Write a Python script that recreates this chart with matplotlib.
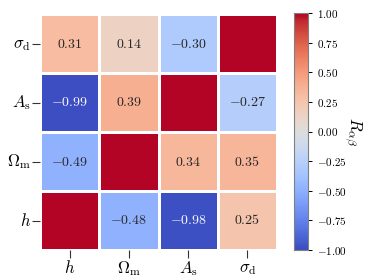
import numpy as np
import matplotlib
matplotlib.use("Agg")
import matplotlib.pyplot as plt
import seaborn as sns

plt.rcParams['mathtext.fontset'] = 'cm'

rows = [r"$\sigma_{\rm d}$", r"$A_{\rm s}$", r"$\Omega_{\rm m}$", r"$h$"]
cols = [r"$h$", r"$\Omega_{\rm m}$", r"$A_{\rm s}$", r"$\sigma_{\rm d}$"]
R = np.array([
    [0.31, 0.14, -0.30, 1.00],
    [-0.99, 0.39, 1.00, -0.27],
    [-0.49, 1.00, 0.34, 0.35],
    [1.00, -0.48, -0.98, 0.25],
])

# no number on the diagonal
labels = np.empty(R.shape, dtype=object)
for i in range(4):
    for j in range(4):
        labels[i, j] = "" if R[i, j] == 1.0 else "$%.2f$" % R[i, j]

fig = plt.figure(figsize=(3.74, 2.80), dpi=100)
ax = fig.add_axes([40/374, 30/280, 237/374, 236/280])
cax = fig.add_axes([294/374, 30/280, 14/374, 237/280])

sns.heatmap(R, ax=ax, cbar_ax=cax, cmap="coolwarm", vmin=-1, vmax=1,
            annot=labels, fmt="", annot_kws={"fontsize": 10},
            linewidths=2, linecolor="white",
            xticklabels=cols, yticklabels=rows)

ax.set_yticklabels(rows, rotation=0)
ax.set_xticklabels(cols, rotation=0)
# white cell borders hide the inner part of the ticks, so make them longer
ax.tick_params(axis="both", labelsize=12, length=5.5, width=0.8,
               color="#333333", pad=1)

ticks = np.arange(-1, 1.01, 0.25)
cax.set_yticks(ticks)
cax.set_yticklabels(["$%.2f$" % t for t in ticks], fontsize=8)
cax.tick_params(length=3, width=0.7)
for s in cax.spines.values():
    s.set_visible(True)
    s.set_edgecolor("gray")
cax.set_ylabel(r"$R_{\alpha\beta}$", rotation=270, fontsize=12, labelpad=12)

fig.savefig("out.png", dpi=100)
